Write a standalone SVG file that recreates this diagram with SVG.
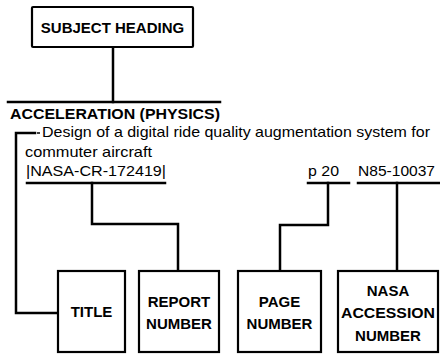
<svg xmlns="http://www.w3.org/2000/svg" width="440" height="354" viewBox="0 0 440 354">
<style>
.bg{fill:#fff}
.box{fill:#fff;stroke:#000;stroke-width:2.2}
.ln{fill:none;stroke:#000;stroke-width:2.5;stroke-linecap:square}
.thin{fill:none;stroke:#000;stroke-width:1.5}
.lbl{font-family:"Liberation Sans",Arial,Helvetica,sans-serif;font-weight:bold;font-size:15px;fill:#000;text-anchor:middle}
.txt{font-family:"Liberation Sans",Arial,Helvetica,sans-serif;font-size:14.5px;fill:#000}
.hd{font-family:"Liberation Sans",Arial,Helvetica,sans-serif;font-weight:bold;font-size:14.5px;fill:#000}
</style>
<rect class="bg" x="0" y="0" width="440" height="354"/>
<g id="connectors">
  <line class="ln" x1="113" y1="47" x2="113" y2="102"/>
  <line class="ln" x1="8" y1="102" x2="220" y2="102"/>
  <polyline class="ln" points="35,133 16,133 16,313 58,313"/>
  <line class="thin" x1="37" y1="133" x2="40" y2="133"/>
  <line class="ln" x1="27" y1="183" x2="165" y2="183"/>
  <polyline class="ln" points="92,183 92,224 178,224 178,271"/>
  <line class="ln" x1="308" y1="183" x2="349" y2="183"/>
  <polyline class="ln" points="328,183 328,225 280,225 280,271"/>
  <line class="ln" x1="358" y1="183" x2="440" y2="183"/>
  <line class="ln" x1="397" y1="183" x2="397" y2="271"/>
</g>
<g id="subject-heading">
  <rect class="box" x="32" y="7" width="161" height="40" rx="1"/>
  <text class="lbl" x="112.5" y="32.5">SUBJECT HEADING</text>
</g>
<g id="entry">
  <text class="hd" x="10" y="119" textLength="210" lengthAdjust="spacingAndGlyphs">ACCELERATION (PHYSICS)</text>
  <text class="txt" x="42" y="137" textLength="388" lengthAdjust="spacingAndGlyphs">Design of a digital ride quality augmentation system for</text>
  <text class="txt" x="25" y="157" textLength="127" lengthAdjust="spacingAndGlyphs">commuter aircraft</text>
  <text class="txt" x="26" y="176" textLength="140" lengthAdjust="spacingAndGlyphs">|NASA-CR-172419|</text>
  <text class="txt" x="308" y="176" textLength="31" lengthAdjust="spacingAndGlyphs">p 20</text>
  <text class="txt" x="358" y="176" textLength="77" lengthAdjust="spacingAndGlyphs">N85-10037</text>
</g>
<g id="title">
  <rect class="box" x="58" y="271" width="67" height="81"/>
  <text class="lbl" x="91.5" y="317">TITLE</text>
</g>
<g id="report-number">
  <rect class="box" x="139" y="271" width="80" height="81"/>
  <text class="lbl" x="179" y="307">REPORT</text>
  <text class="lbl" x="179" y="329">NUMBER</text>
</g>
<g id="page-number">
  <rect class="box" x="238" y="271" width="83" height="81"/>
  <text class="lbl" x="279.5" y="307">PAGE</text>
  <text class="lbl" x="279.5" y="329">NUMBER</text>
</g>
<g id="nasa-accession-number">
  <rect class="box" x="338" y="271" width="100" height="81"/>
  <text class="lbl" x="388" y="296">NASA</text>
  <text class="lbl" x="388" y="318" textLength="94" lengthAdjust="spacingAndGlyphs">ACCESSION</text>
  <text class="lbl" x="388" y="341">NUMBER</text>
</g>
</svg>
